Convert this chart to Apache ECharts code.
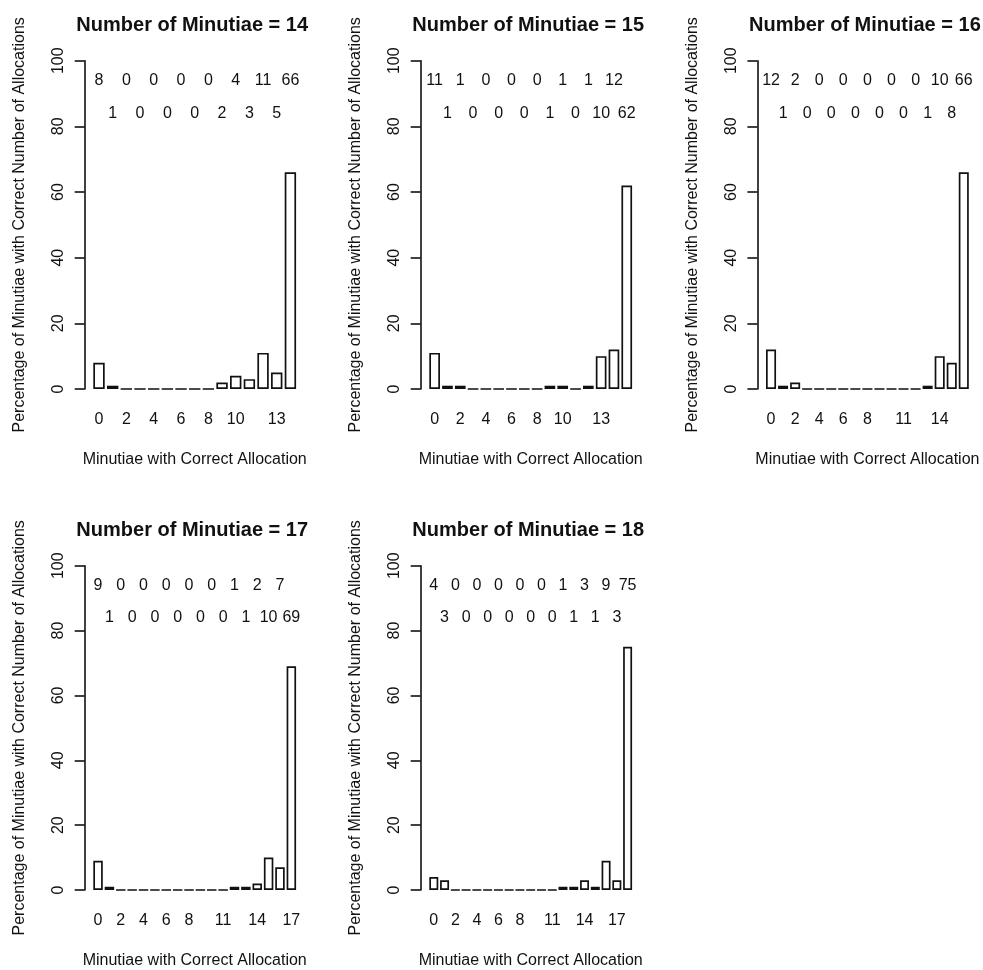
<!DOCTYPE html>
<html>
<head>
<meta charset="utf-8">
<script src="https://cdn.jsdelivr.net/npm/echarts@6/dist/echarts.min.js"></script>
<style>
  html, body { margin: 0; padding: 0; background: #fff; }
  #chart { width: 983px; height: 970px; }
</style>
</head>
<body>
<div id="chart"></div>
<script>
// Percentage of minutiae with the correct number of allocations,
// indexed by the number of minutiae with a correct allocation (0..N).
const minutiaeCounts = [14, 15, 16, 17, 18];
const pct14 = [8, 1, 0, 0, 0, 0, 0, 0, 0, 2, 4, 3, 11, 5, 66];
const pct15 = [11, 1, 1, 0, 0, 0, 0, 0, 0, 1, 1, 0, 1, 10, 12, 62];
const pct16 = [12, 1, 2, 0, 0, 0, 0, 0, 0, 0, 0, 0, 0, 1, 10, 8, 66];
const pct17 = [9, 1, 0, 0, 0, 0, 0, 0, 0, 0, 0, 0, 1, 1, 2, 10, 7, 69];
const pct18 = [4, 3, 0, 0, 0, 0, 0, 0, 0, 0, 0, 0, 1, 1, 3, 1, 9, 3, 75];

// Category labels that are printed under each panel's bars
const shown14 = [0, 2, 4, 6, 8, 10, 13];
const shown15 = [0, 2, 4, 6, 8, 10, 13];
const shown16 = [0, 2, 4, 6, 8, 11, 14];
const shown17 = [0, 2, 4, 6, 8, 11, 14, 17];
const shown18 = [0, 2, 4, 6, 8, 11, 14, 17];

const yTicks = [0, 20, 40, 60, 80, 100];
const labelRowY = [94, 84];   // heights of the two rows of value labels

const xTitle = 'Minutiae with Correct Allocation';
const yTitle = 'Percentage of Minutiae with Correct Number of Allocations';

const panelValues = [pct14, pct15, pct16, pct17, pct18];
const panelShown = [shown14, shown15, shown16, shown17, shown18];

// Plot-region layout (pixels)
const colLeft = [85.2, 421.2, 757.9];
const rowTop = [60.7, 565.7];
const plotW = 219;
const plotH = 328.3;
const FONT = '"Liberation Sans", Arial, sans-serif';
const INK = '#111';

const grids = [], xAxes = [], yAxes = [], series = [], titles = [];

minutiaeCounts.forEach((m, p) => {
  const vals = panelValues[p];
  const shown = panelShown[p];
  const n = vals.length;
  const L = colLeft[p % 3];
  const T = rowTop[Math.floor(p / 3)];
  // bar layout: unit bar width, 0.2 spacing, 4% padding on each side
  const span = plotW / 1.08;
  const u = span / (1.2 * n - 0.2);
  const gLeft = L + plotW * 0.04 / 1.08 - 0.1 * u;
  const gWidth = 1.2 * n * u;

  grids.push({ left: gLeft, top: T, width: gWidth, height: plotH });

  const cats = vals.map((_, i) => String(i));
  xAxes.push({
    type: 'category', gridIndex: p, data: cats,
    axisLine: { show: false }, axisTick: { show: false },
    axisLabel: {
      interval: (idx) => shown.includes(idx),
      color: INK, fontFamily: FONT, fontSize: 16, margin: 23
    },
    name: xTitle, nameLocation: 'middle', nameGap: 63,
    nameTextStyle: { color: INK, fontFamily: FONT, fontSize: 16 }
  });

  yAxes.push({
    type: 'value', gridIndex: p, min: 0, max: 100, interval: 20,
    offset: gLeft - L + 0.5,
    splitLine: { show: false },
    axisLine: { show: true, lineStyle: { color: INK, width: 1.6 } },
    axisTick: { show: true, length: 10, lineStyle: { color: INK, width: 1.6 } },
    axisLabel: {
      rotate: 90, margin: 18, color: INK, fontFamily: FONT, fontSize: 16,
      formatter: (v) => yTicks.includes(v) ? String(v) : ''
    },
    name: yTitle, nameLocation: 'middle', nameGap: 57,
    nameTextStyle: { color: INK, fontFamily: FONT, fontSize: 16 }
  });

  series.push({
    type: 'bar', xAxisIndex: p, yAxisIndex: p, data: vals,
    barWidth: (100 / 1.2) + '%',
    itemStyle: { color: '#fff', borderColor: INK, borderWidth: 1.7 },
    silent: true, animation: false
  });

  // value labels above the bars, alternating between two rows
  series.push({
    type: 'scatter', xAxisIndex: p, yAxisIndex: p, symbolSize: 0,
    itemStyle: { opacity: 1 },
    data: vals.map((v, i) => [i, labelRowY[i % 2], v]),
    label: {
      show: true, position: 'inside', formatter: (d) => String(d.value[2]),
      color: INK, fontFamily: FONT, fontSize: 16
    },
    silent: true, animation: false
  });

  titles.push({
    text: 'Number of Minutiae = ' + m,
    left: L + plotW / 2 - 2.5, top: T - 45, textAlign: 'center', padding: 0,
    textStyle: { color: INK, fontFamily: FONT, fontSize: 20, fontWeight: 'bold' }
  });
});

const chart = echarts.init(document.getElementById('chart'), null, { renderer: 'canvas' });
chart.setOption({
  backgroundColor: '#fff',
  animation: false,
  title: titles,
  grid: grids,
  xAxis: xAxes,
  yAxis: yAxes,
  series: series
});
</script>
</body>
</html>
